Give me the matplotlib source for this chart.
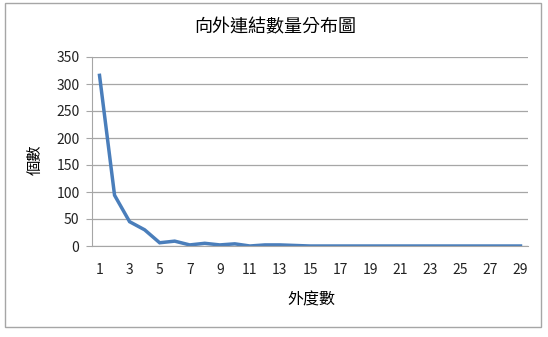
import matplotlib
matplotlib.use("Agg")
import matplotlib.pyplot as plt
from matplotlib.patches import Rectangle

plt.rcParams['font.family'] = ['Noto Sans CJK TC', 'DejaVu Sans']

degree = list(range(1, 30))
counts = [316, 94, 45, 30, 6, 9, 2, 5, 2, 4, 0, 2, 2, 1,
          0, 0, 0, 0, 0, 0, 0, 0, 0, 0, 0, 0, 0, 0, 0]
xtick_labels = [str(d) for d in degree[::2]]

fig = plt.figure(figsize=(5.48, 3.37), dpi=100)
fig.patches.append(Rectangle((5 / 548, 1 - 327 / 337), 536 / 548, 324 / 337,
                             transform=fig.transFigure, fill=False,
                             edgecolor='#a6a6a6', linewidth=1.0))

ax = fig.add_axes([92 / 548, 1 - 246 / 337, 436 / 548, 189 / 337])
ax.plot(range(len(degree)), counts, color='#4a7ebb', linewidth=2.5,
        solid_joinstyle='miter')

ax.set_xlim(-0.5, len(degree) - 0.5)
ax.set_ylim(0, 350)
ax.set_yticks(range(0, 351, 50))
ax.set_xticks(range(0, len(degree), 2))
ax.set_xticklabels(xtick_labels)
ax.yaxis.grid(True, color='#a6a6a6', linewidth=0.9)
ax.set_axisbelow(True)

for s in ['top', 'right']:
    ax.spines[s].set_visible(False)
ax.spines['left'].set_color('#a6a6a6')
ax.spines['bottom'].set_color('#a6a6a6')
ax.tick_params(axis='y', length=4, color='#a6a6a6', labelsize=10, pad=5,
               labelcolor='#222222')
ax.tick_params(axis='x', length=0, labelsize=10, pad=12,
               labelcolor='#222222')

fig.text(275 / 548, 1 - 27 / 337, '向外連結數量分布圖', ha='center', va='center',
         fontsize=13)
fig.text(311 / 548, 1 - 300 / 337, '外度數', ha='center', va='center',
         fontsize=11.5)
fig.text(35 / 548, 1 - 160 / 337, '個數', ha='center', va='center',
         fontsize=11, rotation=90)

fig.savefig('out.png', dpi=100)
